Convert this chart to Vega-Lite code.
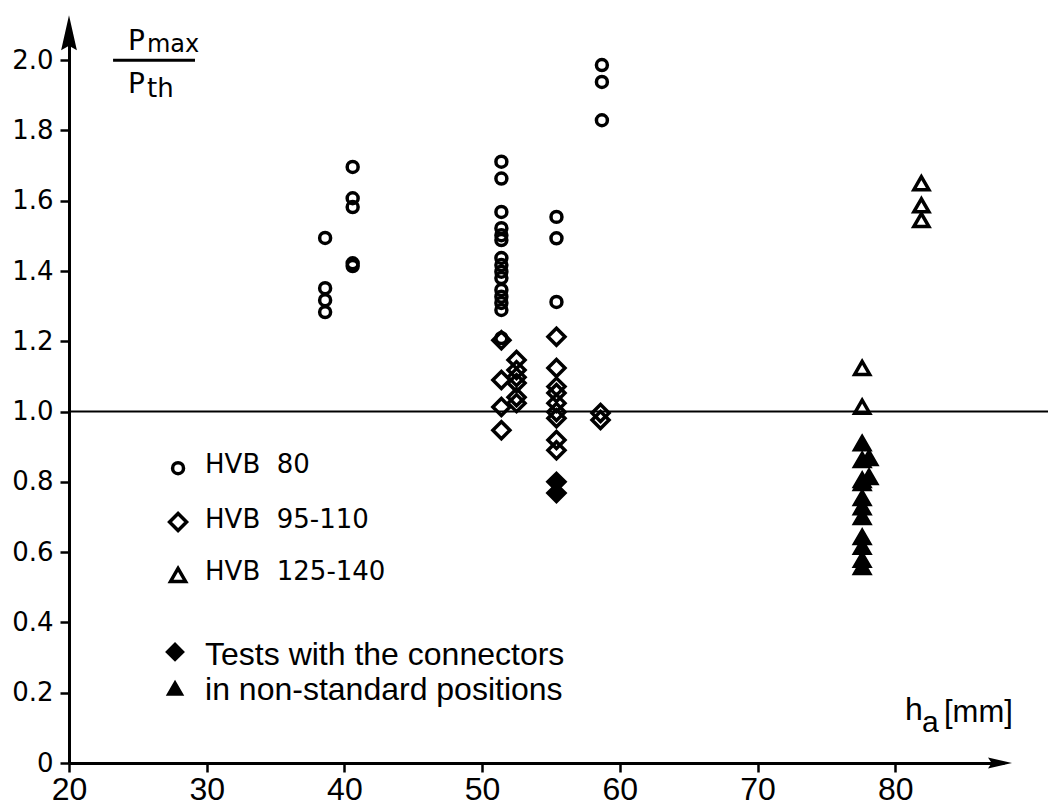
{
  "$schema": "https://vega.github.io/schema/vega-lite/v6.json",
  "width": 935,
  "height": 738,
  "autosize": {"type": "none"},
  "padding": {"left": 69, "top": 25, "right": 44, "bottom": 44},
  "background": "white",
  "config": {
    "view": {"stroke": null},
    "font": "DejaVu Sans",
    "axis": {"grid": false, "domainColor": "black", "domainWidth": 3, "tickColor": "black", "tickWidth": 2.5, "tickSize": 9, "labelColor": "black", "title": null, "labelOverlap": false, "labelFlush": false, "labelBound": false}
  },
  "datasets": {
    "points": [
      {"h_a": 38.6, "ratio": 1.494, "series": "HVB 80", "connectors": "standard"},
      {"h_a": 38.6, "ratio": 1.351, "series": "HVB 80", "connectors": "standard"},
      {"h_a": 38.6, "ratio": 1.317, "series": "HVB 80", "connectors": "standard"},
      {"h_a": 38.6, "ratio": 1.283, "series": "HVB 80", "connectors": "standard"},
      {"h_a": 40.6, "ratio": 1.696, "series": "HVB 80", "connectors": "standard"},
      {"h_a": 40.6, "ratio": 1.607, "series": "HVB 80", "connectors": "standard"},
      {"h_a": 40.6, "ratio": 1.582, "series": "HVB 80", "connectors": "standard"},
      {"h_a": 40.6, "ratio": 1.422, "series": "HVB 80", "connectors": "standard"},
      {"h_a": 40.6, "ratio": 1.414, "series": "HVB 80", "connectors": "standard"},
      {"h_a": 51.4, "ratio": 1.711, "series": "HVB 80", "connectors": "standard"},
      {"h_a": 51.4, "ratio": 1.663, "series": "HVB 80", "connectors": "standard"},
      {"h_a": 51.4, "ratio": 1.568, "series": "HVB 80", "connectors": "standard"},
      {"h_a": 51.4, "ratio": 1.522, "series": "HVB 80", "connectors": "standard"},
      {"h_a": 51.4, "ratio": 1.502, "series": "HVB 80", "connectors": "standard"},
      {"h_a": 51.4, "ratio": 1.488, "series": "HVB 80", "connectors": "standard"},
      {"h_a": 51.4, "ratio": 1.437, "series": "HVB 80", "connectors": "standard"},
      {"h_a": 51.4, "ratio": 1.417, "series": "HVB 80", "connectors": "standard"},
      {"h_a": 51.4, "ratio": 1.398, "series": "HVB 80", "connectors": "standard"},
      {"h_a": 51.4, "ratio": 1.38, "series": "HVB 80", "connectors": "standard"},
      {"h_a": 51.4, "ratio": 1.346, "series": "HVB 80", "connectors": "standard"},
      {"h_a": 51.4, "ratio": 1.327, "series": "HVB 80", "connectors": "standard"},
      {"h_a": 51.4, "ratio": 1.309, "series": "HVB 80", "connectors": "standard"},
      {"h_a": 51.4, "ratio": 1.289, "series": "HVB 80", "connectors": "standard"},
      {"h_a": 51.4, "ratio": 1.209, "series": "HVB 80", "connectors": "standard"},
      {"h_a": 55.4, "ratio": 1.554, "series": "HVB 80", "connectors": "standard"},
      {"h_a": 55.4, "ratio": 1.493, "series": "HVB 80", "connectors": "standard"},
      {"h_a": 55.4, "ratio": 1.312, "series": "HVB 80", "connectors": "standard"},
      {"h_a": 58.7, "ratio": 1.986, "series": "HVB 80", "connectors": "standard"},
      {"h_a": 58.7, "ratio": 1.938, "series": "HVB 80", "connectors": "standard"},
      {"h_a": 58.7, "ratio": 1.829, "series": "HVB 80", "connectors": "standard"},
      {"h_a": 51.4, "ratio": 1.203, "series": "HVB 95-110", "connectors": "standard"},
      {"h_a": 51.4, "ratio": 1.09, "series": "HVB 95-110", "connectors": "standard"},
      {"h_a": 51.4, "ratio": 1.013, "series": "HVB 95-110", "connectors": "standard"},
      {"h_a": 51.4, "ratio": 0.947, "series": "HVB 95-110", "connectors": "standard"},
      {"h_a": 52.5, "ratio": 1.147, "series": "HVB 95-110", "connectors": "standard"},
      {"h_a": 52.5, "ratio": 1.118, "series": "HVB 95-110", "connectors": "standard"},
      {"h_a": 52.5, "ratio": 1.098, "series": "HVB 95-110", "connectors": "standard"},
      {"h_a": 52.5, "ratio": 1.081, "series": "HVB 95-110", "connectors": "standard"},
      {"h_a": 52.5, "ratio": 1.041, "series": "HVB 95-110", "connectors": "standard"},
      {"h_a": 52.5, "ratio": 1.024, "series": "HVB 95-110", "connectors": "standard"},
      {"h_a": 55.4, "ratio": 1.213, "series": "HVB 95-110", "connectors": "standard"},
      {"h_a": 55.4, "ratio": 1.124, "series": "HVB 95-110", "connectors": "standard"},
      {"h_a": 55.4, "ratio": 1.071, "series": "HVB 95-110", "connectors": "standard"},
      {"h_a": 55.4, "ratio": 1.053, "series": "HVB 95-110", "connectors": "standard"},
      {"h_a": 55.4, "ratio": 1.024, "series": "HVB 95-110", "connectors": "standard"},
      {"h_a": 55.4, "ratio": 0.999, "series": "HVB 95-110", "connectors": "standard"},
      {"h_a": 55.4, "ratio": 0.981, "series": "HVB 95-110", "connectors": "standard"},
      {"h_a": 55.4, "ratio": 0.919, "series": "HVB 95-110", "connectors": "standard"},
      {"h_a": 55.4, "ratio": 0.89, "series": "HVB 95-110", "connectors": "standard"},
      {"h_a": 58.6, "ratio": 0.996, "series": "HVB 95-110", "connectors": "standard"},
      {"h_a": 58.6, "ratio": 0.976, "series": "HVB 95-110", "connectors": "standard"},
      {"h_a": 55.4, "ratio": 0.8, "series": "HVB 95-110", "connectors": "non-standard"},
      {"h_a": 55.4, "ratio": 0.768, "series": "HVB 95-110", "connectors": "non-standard"},
      {"h_a": 81.9, "ratio": 1.65, "series": "HVB 125-140", "connectors": "standard"},
      {"h_a": 81.9, "ratio": 1.587, "series": "HVB 125-140", "connectors": "standard"},
      {"h_a": 81.9, "ratio": 1.545, "series": "HVB 125-140", "connectors": "standard"},
      {"h_a": 77.6, "ratio": 1.124, "series": "HVB 125-140", "connectors": "standard"},
      {"h_a": 77.6, "ratio": 1.014, "series": "HVB 125-140", "connectors": "standard"},
      {"h_a": 77.6, "ratio": 0.91, "series": "HVB 125-140", "connectors": "non-standard"},
      {"h_a": 77.6, "ratio": 0.862, "series": "HVB 125-140", "connectors": "non-standard"},
      {"h_a": 78.1, "ratio": 0.868, "series": "HVB 125-140", "connectors": "non-standard"},
      {"h_a": 78.1, "ratio": 0.814, "series": "HVB 125-140", "connectors": "non-standard"},
      {"h_a": 77.6, "ratio": 0.805, "series": "HVB 125-140", "connectors": "non-standard"},
      {"h_a": 77.6, "ratio": 0.797, "series": "HVB 125-140", "connectors": "non-standard"},
      {"h_a": 77.6, "ratio": 0.754, "series": "HVB 125-140", "connectors": "non-standard"},
      {"h_a": 77.6, "ratio": 0.728, "series": "HVB 125-140", "connectors": "non-standard"},
      {"h_a": 77.6, "ratio": 0.7, "series": "HVB 125-140", "connectors": "non-standard"},
      {"h_a": 77.6, "ratio": 0.643, "series": "HVB 125-140", "connectors": "non-standard"},
      {"h_a": 77.6, "ratio": 0.615, "series": "HVB 125-140", "connectors": "non-standard"},
      {"h_a": 77.6, "ratio": 0.578, "series": "HVB 125-140", "connectors": "non-standard"},
      {"h_a": 77.6, "ratio": 0.558, "series": "HVB 125-140", "connectors": "non-standard"}
    ]
  },
  "layer": [
    {
      "data": {"name": "points"},
      "mark": {"type": "point", "strokeWidth": 3.5, "opacity": 1, "stroke": "black"},
      "encoding": {
        "x": {"field": "h_a", "type": "quantitative", "scale": {"domain": [20, 87.9], "nice": false, "zero": false},
          "axis": {"values": [20, 30, 40, 50, 60, 70, 80], "format": "d", "labelFont": "Liberation Sans", "labelFontSize": 32, "labelPadding": 2}},
        "y": {"field": "ratio", "type": "quantitative", "scale": {"domain": [0, 2.1], "nice": false, "zero": true},
          "axis": {"values": [0, 0.1, 0.2, 0.3, 0.4, 0.5, 0.6, 0.7, 0.8, 0.9, 1.0, 1.1, 1.2, 1.3, 1.4, 1.5, 1.6, 1.7, 1.8, 1.9, 2.0],
            "labelExpr": "datum.value == 0 ? '0' : (round(datum.value * 10) % 2 == 0 ? format(datum.value, '.1f') : '')",
            "labelFont": "DejaVu Sans", "labelFontSize": 26, "labelPadding": 7}},
        "shape": {"field": "series", "type": "nominal", "scale": {"domain": ["HVB 80", "HVB 95-110", "HVB 125-140"], "range": ["circle", "diamond", "triangle-up"]}, "legend": null},
        "size": {"field": "series", "type": "nominal", "scale": {"type": "ordinal", "domain": ["HVB 80", "HVB 95-110", "HVB 125-140"], "range": [120, 289, 225]}, "legend": null},
        "fill": {"field": "connectors", "type": "nominal", "scale": {"domain": ["standard", "non-standard"], "range": ["transparent", "black"]}, "legend": null}
      }
    },
    {
      "data": {"values": [{}]},
      "mark": {"type": "rule", "stroke": "black", "strokeWidth": 2},
      "encoding": {"x": {"datum": 20}, "x2": {"datum": 91.1}, "y": {"datum": 1}}
    },
    {
      "data": {"values": [{}]},
      "mark": {"type": "point", "shape": "M0,-1L0.45,1L0,0.75L-0.45,1Z", "size": 1225, "filled": true, "fill": "black", "strokeWidth": 0, "opacity": 1},
      "encoding": {"x": {"datum": 20}, "y": {"datum": 2.078}}
    },
    {
      "data": {"values": [{}]},
      "mark": {"type": "point", "shape": "M1,0L-1,-0.45L-0.7,0L-1,0.45Z", "size": 576, "filled": true, "fill": "black", "strokeWidth": 0, "opacity": 1},
      "encoding": {"x": {"datum": 87.61}, "y": {"datum": 0}}
    },
    {
      "data": {"values": [{}]},
      "mark": {"type": "point", "shape": "circle", "size": 120, "strokeWidth": 3.5, "stroke": "black", "opacity": 1},
      "encoding": {"x": {"datum": 27.92}, "y": {"datum": 0.839}}
    },
    {
      "data": {"values": [{}]},
      "mark": {"type": "point", "shape": "diamond", "size": 289, "strokeWidth": 3.5, "stroke": "black", "opacity": 1},
      "encoding": {"x": {"datum": 27.92}, "y": {"datum": 0.686}}
    },
    {
      "data": {"values": [{}]},
      "mark": {"type": "point", "shape": "triangle-up", "size": 225, "strokeWidth": 3.5, "stroke": "black", "opacity": 1},
      "encoding": {"x": {"datum": 27.92}, "y": {"datum": 0.535}}
    },
    {
      "data": {"values": [{}]},
      "mark": {"type": "point", "shape": "diamond", "size": 289, "strokeWidth": 2, "stroke": "black", "fill": "black", "filled": true, "opacity": 1},
      "encoding": {"x": {"datum": 27.7}, "y": {"datum": 0.316}}
    },
    {
      "data": {"values": [{}]},
      "mark": {"type": "point", "shape": "triangle-up", "size": 225, "strokeWidth": 2, "stroke": "black", "fill": "black", "filled": true, "opacity": 1},
      "encoding": {"x": {"datum": 27.7}, "y": {"datum": 0.213}}
    },
    {
      "data": {"values": [{}]},
      "mark": {"type": "text", "text": "HVB\u00a0\u00a080", "font": "DejaVu Sans", "fontSize": 26, "align": "left", "baseline": "alphabetic", "color": "black"},
      "encoding": {"x": {"datum": 29.88}, "y": {"datum": 0.825}}
    },
    {
      "data": {"values": [{}]},
      "mark": {"type": "text", "text": "HVB\u00a0\u00a095-110", "font": "DejaVu Sans", "fontSize": 26, "align": "left", "baseline": "alphabetic", "color": "black"},
      "encoding": {"x": {"datum": 29.88}, "y": {"datum": 0.669}}
    },
    {
      "data": {"values": [{}]},
      "mark": {"type": "text", "text": "HVB\u00a0\u00a0125-140", "font": "DejaVu Sans", "fontSize": 26, "align": "left", "baseline": "alphabetic", "color": "black"},
      "encoding": {"x": {"datum": 29.88}, "y": {"datum": 0.521}}
    },
    {
      "data": {"values": [{}]},
      "mark": {"type": "text", "text": "Tests with the connectors", "font": "Liberation Sans", "fontSize": 32, "align": "left", "baseline": "alphabetic", "color": "black"},
      "encoding": {"x": {"datum": 29.88}, "y": {"datum": 0.278}}
    },
    {
      "data": {"values": [{}]},
      "mark": {"type": "text", "text": "in non-standard positions", "font": "Liberation Sans", "fontSize": 32, "align": "left", "baseline": "alphabetic", "color": "black"},
      "encoding": {"x": {"datum": 29.88}, "y": {"datum": 0.179}}
    },
    {
      "data": {"values": [{}]},
      "mark": {"type": "text", "text": "P", "font": "DejaVu Sans", "fontSize": 28, "align": "left", "baseline": "alphabetic", "color": "black"},
      "encoding": {"x": {"datum": 24.28}, "y": {"datum": 2.028}}
    },
    {
      "data": {"values": [{}]},
      "mark": {"type": "text", "text": "max", "font": "DejaVu Sans", "fontSize": 24, "align": "left", "baseline": "alphabetic", "color": "black"},
      "encoding": {"x": {"datum": 25.66}, "y": {"datum": 2.023}}
    },
    {
      "data": {"values": [{}]},
      "mark": {"type": "rule", "stroke": "black", "strokeWidth": 3},
      "encoding": {"x": {"datum": 23.2}, "x2": {"datum": 29.15}, "y": {"datum": 2.0}}
    },
    {
      "data": {"values": [{}]},
      "mark": {"type": "text", "text": "P", "font": "DejaVu Sans", "fontSize": 28, "align": "left", "baseline": "alphabetic", "color": "black"},
      "encoding": {"x": {"datum": 24.28}, "y": {"datum": 1.906}}
    },
    {
      "data": {"values": [{}]},
      "mark": {"type": "text", "text": "th", "font": "DejaVu Sans", "fontSize": 26, "align": "left", "baseline": "alphabetic", "color": "black"},
      "encoding": {"x": {"datum": 25.66}, "y": {"datum": 1.895}}
    },
    {
      "data": {"values": [{}]},
      "mark": {"type": "text", "text": "h", "font": "Liberation Sans", "fontSize": 32, "align": "left", "baseline": "alphabetic", "color": "black"},
      "encoding": {"x": {"datum": 80.71}, "y": {"datum": 0.122}}
    },
    {
      "data": {"values": [{}]},
      "mark": {"type": "text", "text": "a", "font": "Liberation Sans", "fontSize": 30, "align": "left", "baseline": "alphabetic", "color": "black"},
      "encoding": {"x": {"datum": 81.95}, "y": {"datum": 0.088}}
    },
    {
      "data": {"values": [{}]},
      "mark": {"type": "text", "text": "[mm]", "font": "Liberation Sans", "fontSize": 31, "align": "left", "baseline": "alphabetic", "color": "black"},
      "encoding": {"x": {"datum": 83.54}, "y": {"datum": 0.117}}
    }
  ]
}
